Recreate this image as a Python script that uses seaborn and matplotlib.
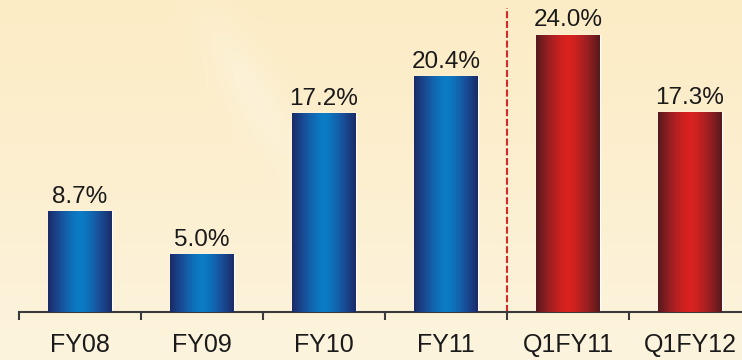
import numpy as np
import pandas as pd
import matplotlib
matplotlib.use("Agg")
import matplotlib.pyplot as plt
import seaborn as sns
from matplotlib import font_manager
from matplotlib.colors import LinearSegmentedColormap

# Growth figures by period
periods = ["FY08", "FY09", "FY10", "FY11", "Q1FY11", "Q1FY12"]
growth = [8.7, 5.0, 17.2, 20.4, 24.0, 17.3]
period_type = ["Annual", "Annual", "Annual", "Annual", "Quarter", "Quarter"]

df = pd.DataFrame({"period": periods, "growth": growth, "type": period_type})

sns.set_theme(style="white")
plt.rcParams["font.family"] = ["Liberation Sans", "DejaVu Sans"]

installed = {f.name for f in font_manager.fontManager.ttflist}
if "Liberation Sans Narrow" in installed:
    tick_family, tick_size = ["Liberation Sans Narrow", "Liberation Sans"], 20
else:
    tick_family, tick_size = ["Liberation Sans", "DejaVu Sans"], 18

W, H = 742, 360
fig = plt.figure(figsize=(W / 100, H / 100), dpi=100)

# cream backdrop with a gentle vertical shading
bg = fig.add_axes([0, 0, 1, 1], zorder=-5)
yy = np.linspace(0, 1, 200)[:, None]
xx = np.linspace(0, 1, 300)[None, :]
top_c = np.array([252, 236, 198]) / 255
bot_c = np.array([253, 244, 222]) / 255
mix = (yy ** 1.2) * np.ones_like(xx)
img = top_c[None, None, :] * (1 - mix[..., None]) + bot_c[None, None, :] * mix[..., None]
# faint light streak across the upper left
streak = np.exp(-((xx - 0.35 - 0.25 * (yy - 0.3)) ** 2) / 0.0012) * np.exp(-((yy - 0.25) ** 2) / 0.04)
img = img + (1 - img) * 0.25 * streak[..., None]
bg.imshow(np.clip(img, 0, 1), extent=[0, 1, 1, 0], aspect="auto")
bg.set_xlim(0, 1)
bg.set_ylim(1, 0)
bg.axis("off")

ax = fig.add_axes([0, 48 / H, 1, 312 / H])
ax.patch.set_alpha(0)

palette = {"Annual": "#0d5aa0", "Quarter": "#b01e1e"}
sns.barplot(data=df, x="period", y="growth", hue="type", palette=palette,
            dodge=False, width=0.52, legend=False, ax=ax, zorder=2)

# cylindrical shading on each bar
t = np.linspace(-1, 1, 256)
shade = (1 - np.abs(t) ** 1.4)[None, :]
cmaps = {
    "Annual": LinearSegmentedColormap.from_list("blu", ["#1b2a66", "#184f98", "#0a7dc6"]),
    "Quarter": LinearSegmentedColormap.from_list("red", ["#55191d", "#9a1f22", "#da221e"]),
}
for patch, kind in zip(ax.patches, period_type):
    x0, y0 = patch.get_x(), patch.get_y()
    w, h = patch.get_width(), patch.get_height()
    im = ax.imshow(shade, cmap=cmaps[kind], extent=[x0, x0 + w, y0, y0 + h],
                   aspect="auto", zorder=3, vmin=0, vmax=1)
    im.set_clip_path(patch)

# value labels
for i, v in enumerate(growth):
    ax.annotate(f"{v:.1f}%", (i, v), xytext=(0, 6), textcoords="offset points",
                ha="center", va="baseline", fontsize=17.5, color="#1a1a1a", zorder=5)

# divider between annual and quarterly figures
ax.axvline(3.5, ymin=0, ymax=(312 - 8) / 312, color="#d42a2a", lw=1.5,
           linestyle=(0, (3.4, 1.3)), zorder=1)

ax.set_xlim(-0.656, 5.426)
ax.set_ylim(0, 27)
ax.set_xlabel("")
ax.set_ylabel("")
ax.set_yticks([])

for s in ["top", "right", "left"]:
    ax.spines[s].set_visible(False)
ax.spines["bottom"].set_color("#3a3a3a")
ax.spines["bottom"].set_linewidth(1.5)
ax.spines["bottom"].set_bounds(-0.5, 5.426)

ax.set_xticks(range(len(periods)))
ax.set_xticklabels(periods)
ax.set_xticks(np.arange(-0.5, 5.0, 1.0), minor=True)
ax.tick_params(axis="x", which="major", length=0, pad=15)
ax.tick_params(axis="x", which="minor", bottom=True, length=6, width=1.5, color="#3a3a3a")
for lbl in ax.get_xticklabels():
    lbl.set_family(tick_family)
    lbl.set_fontsize(tick_size)
    lbl.set_color("#1a1a1a")

fig.savefig("out.png", dpi=100)
